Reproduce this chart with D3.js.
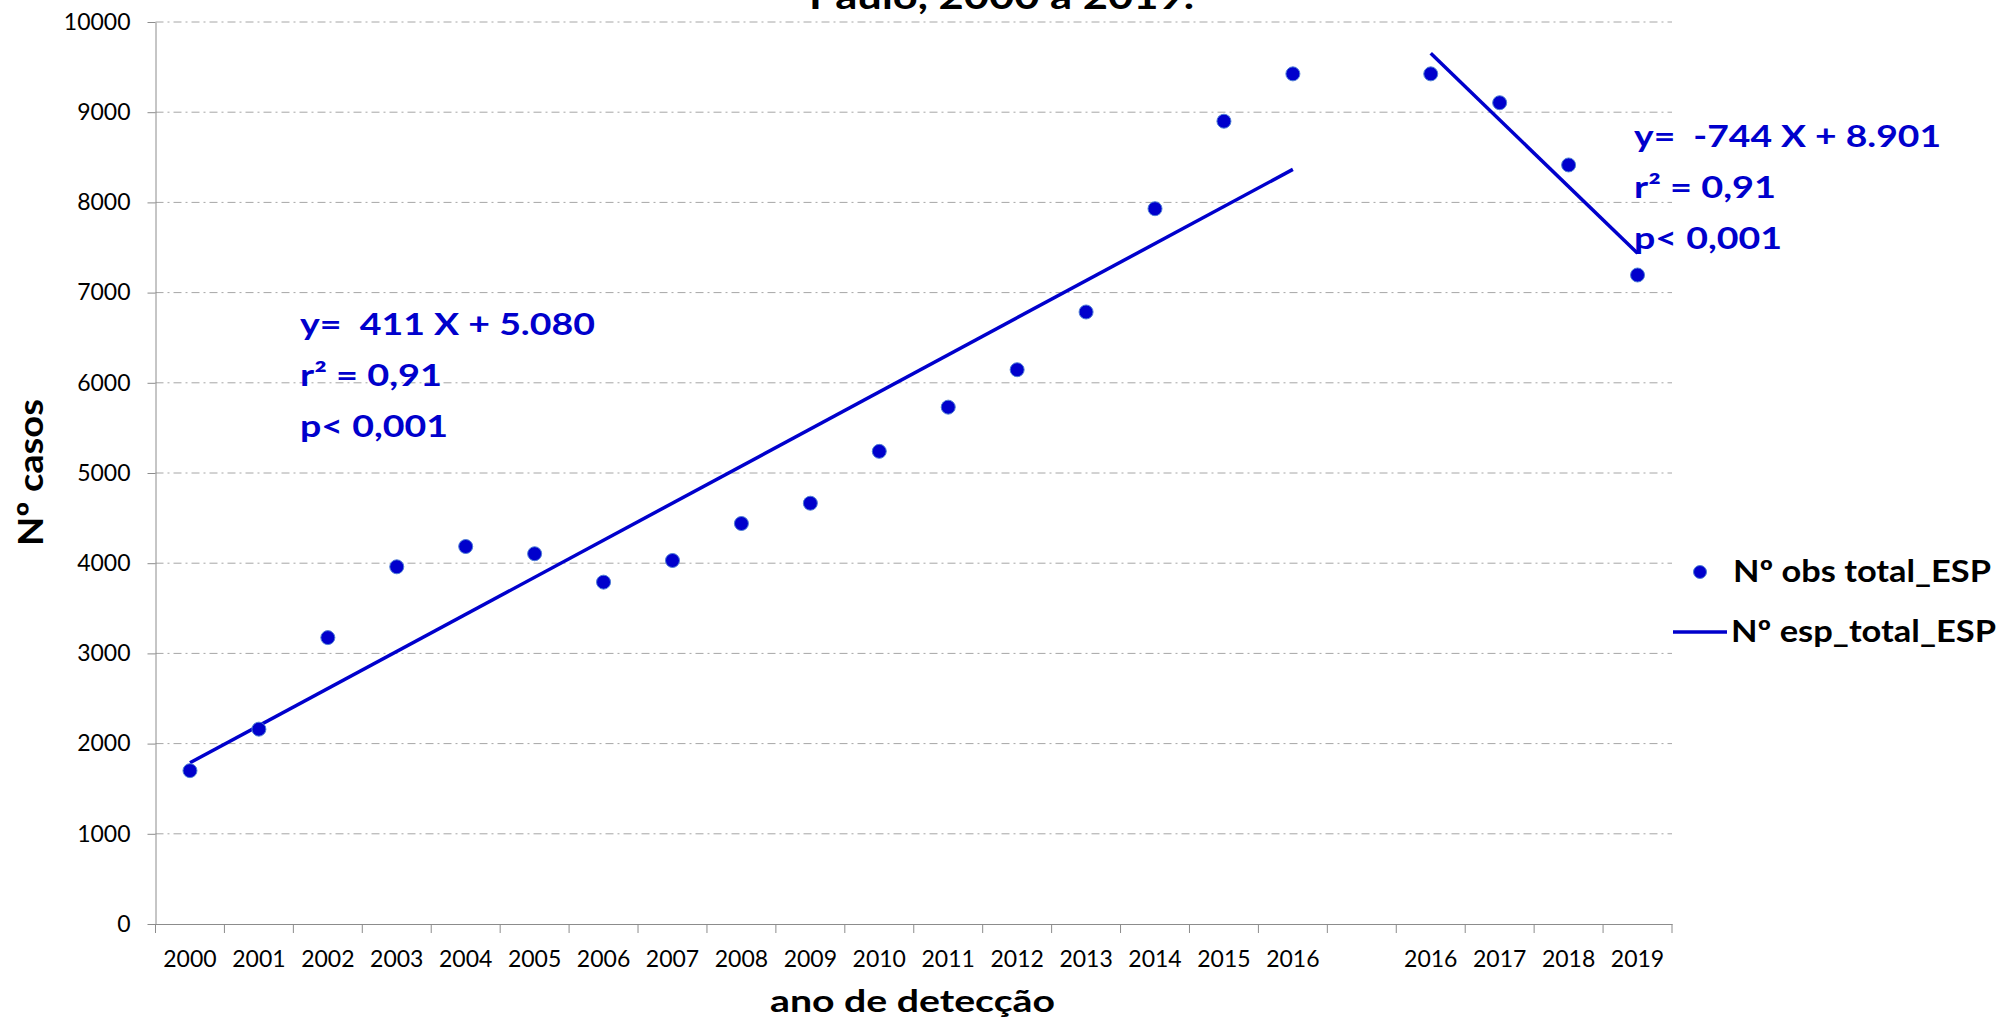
<!DOCTYPE html>
<html>
<head>
<meta charset="utf-8">
<script src="https://cdn.jsdelivr.net/npm/d3@7"></script>
<style>
	body { margin: 0; background: #fff; }
	svg { display: block; font-family: "Lato", "Carlito", sans-serif; }
	.grid line { stroke: #a6a6a6; stroke-dasharray: 8,4,2,4; }
	.axis path, .axis line { stroke: #8c8c8c; }
	.axis text { fill: #000; font-size: 23px; }
	.bold { font-weight: bold; white-space: pre; }
	.note { fill: #0000cc; font-size: 30px; }
</style>
</head>
<body>
<svg id="chart" width="2004" height="1029"></svg>
<script>
// categorias do eixo x (uma vazia separa os dois periodos)
var categories = ["2000","2001","2002","2003","2004","2005","2006","2007","2008","2009",
	"2010","2011","2012","2013","2014","2015","2016","","2016","2017","2018","2019"];
// casos observados
var observed = [1700, 2160, 3175, 3960, 4185, 4105, 3790, 4030, 4440, 4665,
	5240, 5730, 6145, 6785, 7930, 8900, 9425, null, 9425, 9105, 8415, 7195];
// retas de tendencia (indice da categoria, valor esperado)
var trendFirst = [{i: 0, v: 1788}, {i: 16, v: 8366}];
var trendSecond = [{i: 18, v: 9653}, {i: 21, v: 7436}];
var yTicks = [0, 1000, 2000, 3000, 4000, 5000, 6000, 7000, 8000, 9000, 10000];
var noteFirst = ["y=  411 X + 5.080", "r² = 0,91", "p< 0,001"];
var noteSecond = ["y=  -744 X + 8.901", "r² = 0,91", "p< 0,001"];
var legendLabels = ["Nº obs total_ESP", "Nº esp_total_ESP"];

var blue = "#0000cc";
var margin = { top: 22, right: 332, bottom: 105, left: 155.5 };
var width = 2004 - margin.left - margin.right;
var height = 1029 - margin.top - margin.bottom;

var svg = d3.select("#chart");
var g = svg.append("g")
	.attr("transform", "translate(" + margin.left + "," + margin.top + ")");

var x = d3.scaleBand()
	.domain(d3.range(categories.length))
	.range([0, width]);
var y = d3.scaleLinear()
	.domain([0, 10000])
	.range([height, 0]);
var cx = function(i) { return x(i) + x.bandwidth() / 2; };

// linhas de grade
g.append("g").attr("class", "grid")
	.selectAll("line")
	.data(yTicks.slice(1))
	.enter().append("line")
		.attr("x1", 0)
		.attr("x2", width)
		.attr("y1", function(d) { return y(d); })
		.attr("y2", function(d) { return y(d); });

// eixo y
g.append("g").attr("class", "axis")
	.call(d3.axisLeft(y).tickValues(yTicks).tickFormat(d3.format("d"))
		.tickSize(8).tickPadding(17).tickSizeOuter(0))
	.attr("font-family", null);

// eixo x: rotulos centrados, marcas nas divisas
var xAxis = g.append("g").attr("class", "axis")
	.attr("transform", "translate(0," + height + ")")
	.call(d3.axisBottom(x).tickFormat(function(i) { return categories[i]; })
		.tickSize(0).tickPadding(27).tickSizeOuter(0))
	.attr("font-family", null);
xAxis.selectAll(".divider")
	.data(d3.range(categories.length + 1))
	.enter().append("line")
		.attr("class", "divider")
		.attr("x1", function(i) { return i < categories.length ? x(i) : width; })
		.attr("x2", function(i) { return i < categories.length ? x(i) : width; })
		.attr("y1", 0)
		.attr("y2", 9);

// retas de tendencia
var line = d3.line()
	.x(function(d) { return cx(d.i); })
	.y(function(d) { return y(d.v); });
[trendFirst, trendSecond].forEach(function(t) {
	g.append("path")
		.attr("d", line(t))
		.attr("fill", "none")
		.attr("stroke", blue)
		.attr("stroke-width", 3.5);
});

// pontos observados
g.selectAll(".dot")
	.data(observed.map(function(v, i) { return {i: i, v: v}; })
		.filter(function(d) { return d.v != null; }))
	.enter().append("circle")
		.attr("class", "dot")
		.attr("cx", function(d) { return cx(d.i); })
		.attr("cy", function(d) { return y(d.v); })
		.attr("r", 7)
		.attr("fill", blue)
		.attr("stroke", "#4f7fd6")
		.attr("stroke-width", 1);

// texto em negrito, esticado para a largura do original (fonte Calibri)
function boldText(parent, s, px, py, size, len) {
	return parent.append("text")
		.attr("class", "bold")
		.attr("x", px).attr("y", py)
		.attr("textLength", len)
		.attr("lengthAdjust", "spacingAndGlyphs")
		.style("font-size", size + "px")
		.text(s);
}

// anotacoes das regressoes
function note(lines, px, py, lens) {
	lines.forEach(function(s, k) {
		boldText(svg, s, px, py + k * 51, 30, lens[k]).classed("note", true);
	});
}
note(noteFirst, 300, 335, [295, 142, 148]);
note(noteSecond, 1634, 147, [307, 142, 148]);

// titulo (cortado no topo)
boldText(svg, "Paulo, 2000 a 2019.", 809, 9, 36, 385);

// titulos dos eixos
boldText(svg, "Nº casos", -546, 43, 35, 147)
	.attr("transform", "rotate(-90)");
boldText(svg, "ano de detecção", 770, 1012, 31, 285);

// legenda
var legend = svg.append("g");
legend.append("circle")
	.attr("cx", 1700).attr("cy", 572).attr("r", 6.5)
	.attr("fill", blue).attr("stroke", "#4f7fd6");
boldText(legend, legendLabels[0], 1733, 582, 30, 258);
legend.append("line")
	.attr("x1", 1673).attr("x2", 1727).attr("y1", 632).attr("y2", 632)
	.attr("stroke", blue).attr("stroke-width", 3.5);
boldText(legend, legendLabels[1], 1731, 642, 30, 265);
</script>
</body>
</html>
